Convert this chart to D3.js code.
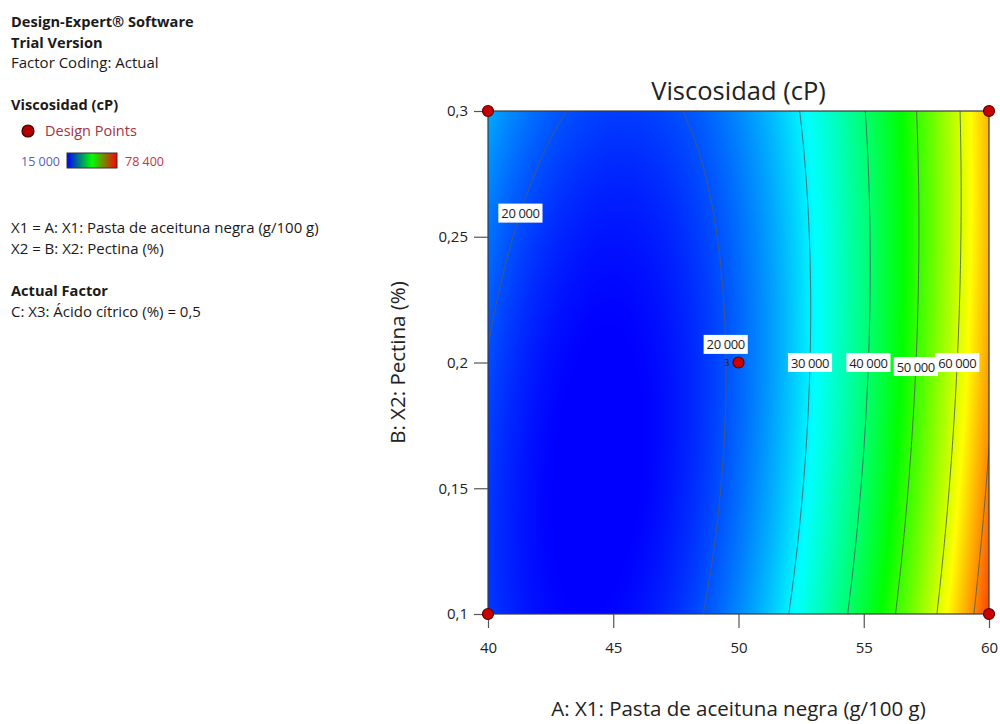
<!DOCTYPE html>
<html>
<head>
<meta charset="utf-8">
<script src="https://cdn.jsdelivr.net/npm/d3@7/dist/d3.min.js"></script>
<style>
  html, body { margin: 0; padding: 0; background: #fff; }
  svg { display: block; font-family: "Open Sans", "Noto Sans", sans-serif; }
</style>
</head>
<body>
<svg id="chart" width="1000" height="724"></svg>
<script>
// Factor ranges (actual units)
const factorA = [40, 60];       // X1: Pasta de aceituna negra (g/100 g)
const factorB = [0.1, 0.3];     // X2: Pectina (%)

// Quadratic response surface in coded units (a, b in -1..1), C held at 0,5
const modelTerms = ["Intercept", "A", "B", "AB", "A²", "B²"];
const modelCoefs = [21160, 24400, 25, -3500, 23000, 2340];

// Colour range of the response
const responseRange = [15000, 78400];

// Contour levels
const contourLevels = [20000, 30000, 40000, 50000, 60000, 70000];

// Contour labels: level, pectina where the label sits, which branch of the curve
const labelLevels  = [20000, 20000, 30000, 40000, 50000, 60000];
const labelPectina = [0.2594, 0.2072, 0.2, 0.2, 0.1984, 0.2];
const labelBranch  = ["low", "high", "high", "high", "high", "high"];

// Design points
const designA    = [40, 60, 40, 60, 50];
const designB    = [0.1, 0.1, 0.3, 0.3, 0.2];
const designReps = [1, 1, 1, 1, 3];

// Axis ticks
const ticksA = [40, 45, 50, 55, 60];
const ticksB = [0.1, 0.15, 0.2, 0.25, 0.3];

const svg = d3.select("#chart");
const plotL = 488, plotR = 989, plotT = 111, plotB = 614;
const x = d3.scaleLinear().domain(factorA).range([plotL, plotR]);
const y = d3.scaleLinear().domain(factorB).range([plotB, plotT]);

const codeA = A => (A - (factorA[0] + factorA[1]) / 2) / ((factorA[1] - factorA[0]) / 2);
const codeB = B => (B - (factorB[0] + factorB[1]) / 2) / ((factorB[1] - factorB[0]) / 2);
const [c0, cA, cB, cAB, cAA, cBB] = modelCoefs;
function predict(A, B) {
  const a = codeA(A), b = codeB(B);
  return c0 + cA * a + cB * b + cAB * a * b + cAA * a * a + cBB * b * b;
}
// Solve the model for A at a given B and level
function solveA(level, B, branch) {
  const b = codeB(B);
  const qa = cAA, qb = cA + cAB * b, qc = c0 + cB * b + cBB * b * b - level;
  const disc = Math.sqrt(qb * qb - 4 * qa * qc);
  const a = branch === "low" ? (-qb - disc) / (2 * qa) : (-qb + disc) / (2 * qa);
  return a * (factorA[1] - factorA[0]) / 2 + (factorA[0] + factorA[1]) / 2;
}

const lo = responseRange[0], hi = responseRange[1];
const color = d3.scaleLinear()
  .domain(d3.range(5).map(i => lo + (hi - lo) * i / 4))
  .range(["#0000ff", "#00ffff", "#00ff00", "#ffff00", "#ff0000"])
  .clamp(true);

// ---- filled surface (rasterised, then placed in the svg) ----
const W = plotR - plotL, H = plotB - plotT;
const canvas = document.createElement("canvas");
canvas.width = W; canvas.height = H;
const ctx = canvas.getContext("2d");
const img = ctx.createImageData(W, H);
for (let j = 0; j < H; j++) {
  const B = y.invert(plotT + j + 0.5);
  for (let i = 0; i < W; i++) {
    const A = x.invert(plotL + i + 0.5);
    const c = d3.rgb(color(predict(A, B)));
    const k = (j * W + i) * 4;
    img.data[k] = c.r; img.data[k + 1] = c.g; img.data[k + 2] = c.b; img.data[k + 3] = 255;
  }
}
ctx.putImageData(img, 0, 0);

const defs = svg.append("defs");
defs.append("clipPath").attr("id", "plotClip")
  .append("rect").attr("x", plotL).attr("y", plotT).attr("width", W).attr("height", H);

svg.append("image")
  .attr("x", plotL).attr("y", plotT).attr("width", W).attr("height", H)
  .attr("preserveAspectRatio", "none")
  .attr("href", canvas.toDataURL());

// ---- contour lines ----
const gA0 = factorA[0] - 1, gStepA = 0.1, nx = 221;
const gB0 = factorB[1] + 0.01, gStepB = 0.001, ny = 221;
const grid = new Array(nx * ny);
for (let j = 0; j < ny; j++)
  for (let i = 0; i < nx; i++)
    grid[j * nx + i] = predict(gA0 + i * gStepA, gB0 - j * gStepB);

const contours = d3.contours().size([nx, ny]).thresholds(contourLevels)(grid);
const proj = d3.geoTransform({
  point: function (px, py) {
    this.stream.point(x(gA0 + (px - 0.5) * gStepA), y(gB0 - (py - 0.5) * gStepB));
  }
});
svg.append("g").attr("clip-path", "url(#plotClip)")
  .selectAll("path").data(contours).join("path")
  .attr("d", d3.geoPath(proj))
  .attr("fill", "none")
  .attr("stroke", "#505a60")
  .attr("stroke-opacity", 0.85)
  .attr("stroke-width", 1);

// ---- frame ----
svg.append("rect")
  .attr("x", plotL).attr("y", plotT).attr("width", W).attr("height", H)
  .attr("fill", "none").attr("stroke", "#3a3a3a").attr("stroke-width", 1.2);

// ---- contour labels ----
const fmt = v => d3.format(",")(v).replace(/,/g, " ");
const labelG = svg.append("g").style("font-size", "13px");
labelLevels.forEach((lv, i) => {
  const A = solveA(lv, labelPectina[i], labelBranch[i]);
  const cx = x(A), cy = y(labelPectina[i]);
  const g = labelG.append("g");
  const t = g.append("text").attr("x", cx).attr("y", cy + 5)
    .attr("text-anchor", "middle").attr("fill", "#1e1e1e")
    .style("letter-spacing", "-0.4px")
    .text(fmt(lv));
  const bb = t.node().getBBox();
  g.insert("rect", "text")
    .attr("x", bb.x - 3).attr("y", cy - 9.5)
    .attr("width", bb.width + 6).attr("height", 19)
    .attr("fill", "#fff");
});

// ---- axes ----
const axB = svg.append("g").attr("transform", `translate(0,${plotB})`)
  .call(d3.axisBottom(x).tickValues(ticksA).tickSize(14).tickPadding(14).tickFormat(d3.format("d")));
const axL = svg.append("g").attr("transform", `translate(${plotL},0)`)
  .call(d3.axisLeft(y).tickValues(ticksB).tickSize(14).tickPadding(6)
    .tickFormat(d => String(d).replace(".", ",")));
[axB, axL].forEach(ax => {
  ax.select(".domain").remove();
  ax.selectAll(".tick line").attr("stroke", "#555").attr("stroke-width", 1.2);
  ax.selectAll(".tick text").attr("fill", "#222")
    .style("font-family", "'Open Sans', sans-serif").style("font-size", "15px");
});

// ---- design points ----
svg.append("g").selectAll("circle").data(designA).join("circle")
  .attr("cx", (d, i) => x(d)).attr("cy", (d, i) => y(designB[i])).attr("r", 5.5)
  .attr("fill", "#c80000").attr("stroke", "#5a0000").attr("stroke-width", 1.2);
const repIdx = designReps.map((r, i) => i).filter(i => designReps[i] > 1);
svg.append("g").selectAll("text").data(repIdx).join("text")
  .attr("x", i => x(designA[i]) - 9)
  .attr("y", i => y(designB[i]) + 3.5)
  .attr("text-anchor", "end").attr("fill", "#222").style("font-size", "9px")
  .text(i => designReps[i]);

// ---- titles ----
svg.append("text").attr("x", (plotL + plotR) / 2).attr("y", 100)
  .attr("text-anchor", "middle").attr("fill", "#222").style("font-size", "25.5px")
  .text("Viscosidad (cP)");
svg.append("text").attr("x", (plotL + plotR) / 2).attr("y", 716)
  .attr("text-anchor", "middle").attr("fill", "#222").style("font-size", "20.5px")
  .text("A: X1: Pasta de aceituna negra (g/100 g)");
svg.append("text")
  .attr("transform", `translate(405,${(plotT + plotB) / 2}) rotate(-90)`)
  .attr("text-anchor", "middle").attr("fill", "#222").style("font-size", "20.5px")
  .text("B: X2: Pectina (%)");

// ---- information panel ----
const info = svg.append("g").style("font-size", "15px").attr("fill", "#1a1a1a");
const infoLines = [
  { t: "Design-Expert® Software", y: 27, b: true },
  { t: "Trial Version", y: 48, b: true },
  { t: "Factor Coding: Actual", y: 68 },
  { t: "Viscosidad (cP)", y: 110, b: true },
  { t: "X1 = A: X1: Pasta de aceituna negra (g/100 g)", y: 233 },
  { t: "X2 = B: X2: Pectina (%)", y: 254 },
  { t: "Actual Factor", y: 296, b: true },
  { t: "C: X3: Ácido cítrico (%) = 0,5", y: 317 }
];
infoLines.forEach(l => info.append("text").attr("x", 11).attr("y", l.y)
  .style("font-weight", l.b ? "700" : "400")
  .style("font-size", l.b ? "14.6px" : "15px").text(l.t));

info.append("circle").attr("cx", 28).attr("cy", 131).attr("r", 6)
  .attr("fill", "#b00000").attr("stroke", "#3a0000").attr("stroke-width", 1.2);
info.append("text").attr("x", 45).attr("y", 136).attr("fill", "#a83040")
  .style("font-size", "14.5px").text("Design Points");

const grad = defs.append("linearGradient").attr("id", "legendGrad");
grad.selectAll("stop").data(["#0000ff", "#00ff00", "#ff0000"]).join("stop")
  .attr("offset", (d, i) => i / 2).attr("stop-color", d => d);
info.append("text").attr("x", 21).attr("y", 166).attr("fill", "#5a5ab8")
  .style("font-size", "12.5px").text(fmt(responseRange[0]));
info.append("rect").attr("x", 67).attr("y", 153).attr("width", 50).attr("height", 15)
  .attr("fill", "url(#legendGrad)").attr("stroke", "#333").attr("stroke-width", 1);
info.append("text").attr("x", 125).attr("y", 166).attr("fill", "#c83040")
  .style("font-size", "12.5px").text(fmt(responseRange[1]));
</script>
</body>
</html>
